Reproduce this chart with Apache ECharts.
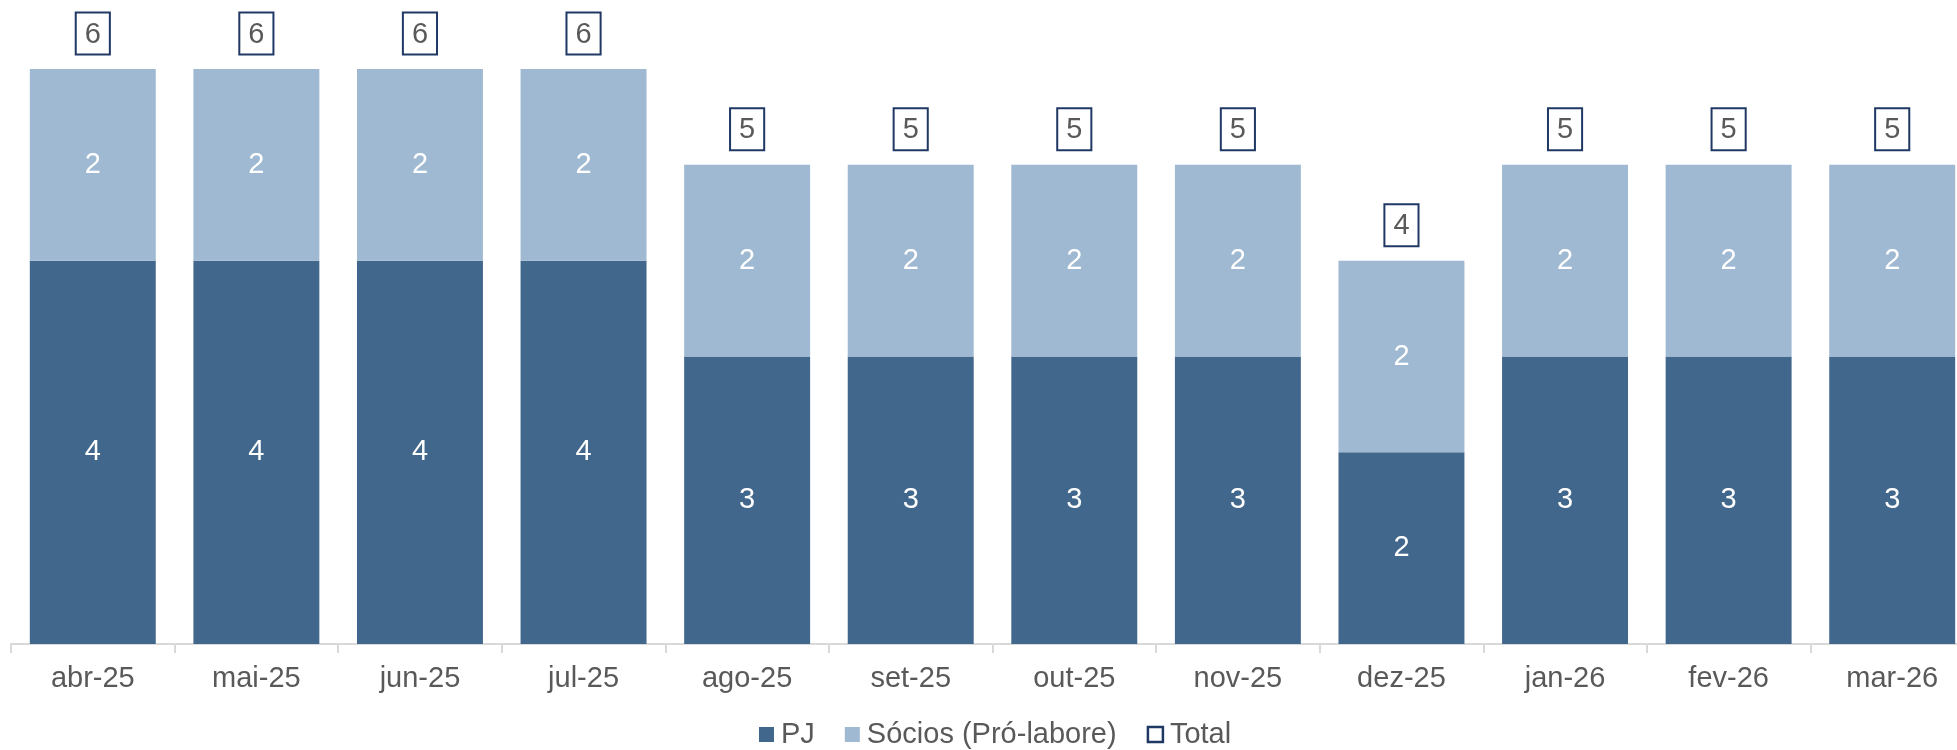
<!DOCTYPE html>
<html>
<head>
<meta charset="utf-8">
<script src="https://cdn.jsdelivr.net/npm/echarts@6/dist/echarts.min.js"></script>
<style>html,body{margin:0;padding:0;background:#fff;}#c{width:1957px;height:750px;}</style>
</head>
<body>
<div id="c"></div>
<script>
const categories = ['abr-25','mai-25','jun-25','jul-25','ago-25','set-25','out-25','nov-25','dez-25','jan-26','fev-26','mar-26'];
const pj = [4,4,4,4,3,3,3,3,2,3,3,3];
const socios = [2,2,2,2,2,2,2,2,2,2,2,2];
const total = [6,6,6,6,5,5,5,5,4,5,5,5];

const FONT = '"Liberation Sans", Arial, sans-serif';
const chart = echarts.init(document.getElementById('c'));
chart.setOption({
  animation: false,
  textStyle: { fontFamily: FONT },
  grid: { left: 11, top: 69, width: 1963, bottom: 106, containLabel: false, outerBoundsMode: 'none' },
  legend: {
    top: 720,
    left: 759,
    itemWidth: 15,
    itemHeight: 15,
    itemGap: 30,
    padding: 0,
    textStyle: { fontSize: 29, color: '#595959', fontFamily: FONT, padding: [0, 0, 0, 2] },
    data: [
      { name: 'PJ', icon: 'rect' },
      { name: 'Sócios (Pró-labore)', icon: 'rect' },
      { name: 'Total', icon: 'rect', itemStyle: { color: '#ffffff', borderColor: '#1F3864', borderWidth: 2.5, opacity: 1 } }
    ]
  },
  xAxis: {
    type: 'category',
    data: categories,
    axisLine: { show: true, lineStyle: { color: '#D9D9D9', width: 2 } },
    axisTick: { show: true, length: 9, lineStyle: { color: '#D9D9D9', width: 2 } },
    axisLabel: { fontSize: 29, color: '#595959', margin: 20, fontFamily: FONT }
  },
  yAxis: {
    type: 'value', min: 0, max: 6, show: false, splitLine: { show: false }
  },
  series: [
    {
      name: 'PJ', type: 'bar', stack: 's', data: pj, barWidth: '77%',
      itemStyle: { color: '#41678C' },
      label: { show: true, position: 'inside', color: '#ffffff', fontSize: 29, fontFamily: FONT }
    },
    {
      name: 'Sócios (Pró-labore)', type: 'bar', stack: 's', data: socios, barWidth: '77%',
      itemStyle: { color: '#9FB9D2' },
      label: { show: true, position: 'inside', color: '#ffffff', fontSize: 29, fontFamily: FONT }
    },
    {
      name: 'Total', type: 'line', data: total,
      symbol: 'circle', symbolSize: 1, showSymbol: true,
      itemStyle: { color: 'rgba(0,0,0,0)', borderWidth: 0 },
      lineStyle: { width: 0, color: 'rgba(0,0,0,0)' },
      label: {
        show: true, position: 'top', distance: 15,
        color: '#595959', fontSize: 29, fontFamily: FONT,
        backgroundColor: '#ffffff', borderColor: '#1F3864', borderWidth: 2,
        padding: [5, 8, 3, 8], lineHeight: 32
      }
    }
  ]
});
</script>
</body>
</html>
